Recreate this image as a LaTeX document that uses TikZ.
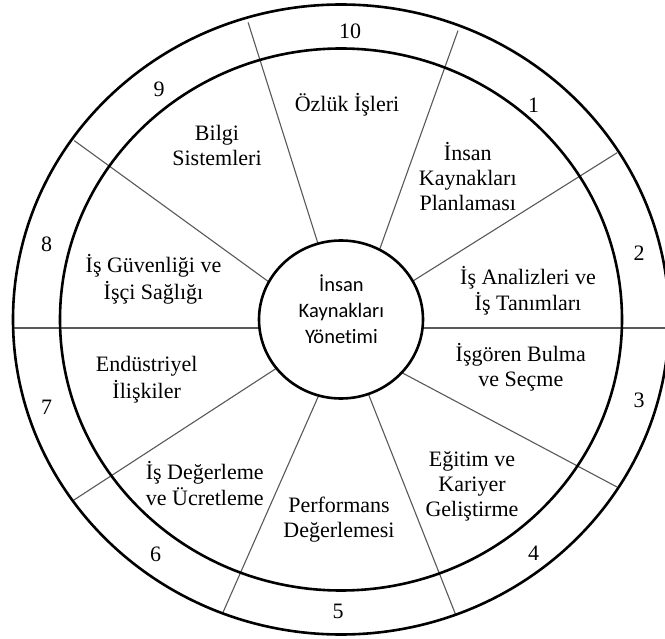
\documentclass[tikz,border=0pt]{standalone}
\usepackage{fontspec}
\setmainfont{Liberation Serif}
\newfontfamily\hubfont[Ligatures={NoCommon}]{Carlito}
\begin{document}
\begin{tikzpicture}[x=1pt,y=-1pt,
  ring/.style={line width=2.6pt},
  spoke/.style={line width=1.1pt, draw=black!65},
  lbl/.style={inner sep=0pt, align=center, font=\fontsize{22}{25}\selectfont},
  num/.style={inner sep=0pt, font=\fontsize{22}{25}\selectfont},
  hub/.style={inner sep=0pt, align=center, font=\hubfont\fontsize{20.5}{26}\selectfont}]
\useasboundingbox (0,0) rectangle (665,639);
\fill[white] (0,0) rectangle (665,639);
\clip (0,0) rectangle (665,639);
\coordinate (c) at (341,319.5);
% spokes
\draw[spoke] (320,250) -- (248.1,22.4);
\draw[spoke] (378,254) -- (458,30.6);
\draw[spoke] (405,286) -- (617,152.8);
\draw[spoke] (400,328) -- (665,328);
\draw[spoke] (395,369) -- (617,487);
\draw[spoke] (366,388) -- (455.9,615.3);
\draw[spoke] (322,388) -- (222.6,613.3);
\draw[spoke] (283,364) -- (72.1,501.2);
\draw[spoke] (12,328) -- (280,328);
\draw[spoke] (280,290) -- (74.2,140.6);
% rings
\draw[ring] (c) ellipse [x radius=328, y radius=315];
\draw[ring] (c) ellipse [x radius=281, y radius=271];
\draw[ring, fill=white] (c) ellipse [x radius=82, y radius=79];
% numbers
\node[num] (n10) at (350,31.5) {10};
\node[num] (n1) at (533.5,105) {1};
\node[num] (n2) at (639,253.5) {2};
\node[num] (n3) at (639,400) {3};
\node[num] (n4) at (533.5,553) {4};
\node[num] (n5) at (338,611.5) {5};
\node[num] (n6) at (155.6,554) {6};
\node[num] (n7) at (46.6,407.5) {7};
\node[num] (n8) at (46.6,244.5) {8};
\node[num] (n9) at (159,89.6) {9};
% sector labels
\node[lbl] (s10) at (347,106.5) {\strut Özlük İşleri\strut};
\node[lbl] (s9) at (217,148.2) {\strut Bilgi\\Sistemleri\strut};
\node[lbl] (s1) at (467.8,179.8) {\strut İnsan\\Kaynakları\\Planlaması\strut};
\node[lbl] (s2) at (528,292.3) {\strut İş Analizleri ve\\İş Tanımları\strut};
\node[lbl] (s3) at (520.8,368.7) {\strut İşgören Bulma\\ve Seçme\strut};
\node[lbl] (s4) at (472,486.8) {\strut Eğitim ve\\Kariyer\\Geliştirme\strut};
\node[lbl] (s5) at (339,519.8) {\strut Performans\\Değerlemesi\strut};
\node[lbl] (s6) at (204.8,487.2) {\strut İş Değerleme\\ve Ücretleme\strut};
\node[lbl] (s7) at (146.7,380) {\strut Endüstriyel\\İlişkiler\strut};
\node[lbl] (s8) at (153.5,280.7) {\strut İş Güvenliği ve\\İşçi Sağlığı\strut};
\node[hub] (hubtext) at (341.4,312.5) {\strut İnsan\\Kaynakları\\Yönetimi\strut};
\end{tikzpicture}
\end{document}
